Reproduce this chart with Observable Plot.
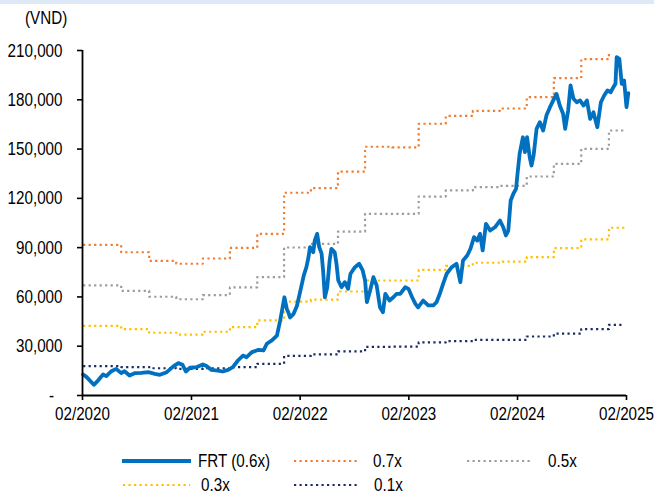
<!DOCTYPE html>
<html><head><meta charset="utf-8">
<script src="https://cdn.jsdelivr.net/npm/d3@7"></script>
<script src="https://cdn.jsdelivr.net/npm/@observablehq/plot@0.6"></script>
<style>
body{margin:0;background:#fff;}
#wrap{position:relative;width:654px;height:496px;overflow:hidden;font-family:"Liberation Sans",Arial,sans-serif;color:#000;}
#topbar{position:absolute;left:0;top:0;width:654px;height:4px;background:#dde9f6;}
#unit{position:absolute;left:25px;top:8px;font-size:19px;line-height:20px;transform:scaleX(0.8);transform-origin:0 0;}
#chart{position:absolute;left:0;top:0;}
.leg{position:absolute;font-size:19px;line-height:20px;white-space:nowrap;transform:scaleX(0.8);transform-origin:0 0;}
.sw{position:absolute;}
</style></head><body>
<div id="wrap"><div id="chart"></div><div id="topbar"></div><div id="unit"></div><div id="legend"></div></div>
<script>
// ---- data ----
const frtDates = ["2020-02-03","2020-02-15","2020-03-10","2020-03-24","2020-04-10","2020-04-21","2020-05-08","2020-05-24","2020-06-10","2020-06-21","2020-07-08","2020-07-25","2020-08-17","2020-09-09","2020-10-01","2020-10-18","2020-11-10","2020-12-02","2020-12-19","2021-01-02","2021-01-13","2021-01-27","2021-02-19","2021-03-11","2021-03-22","2021-04-09","2021-05-01","2021-05-17","2021-06-04","2021-06-20","2021-07-07","2021-07-24","2021-08-05","2021-08-23","2021-09-14","2021-10-01","2021-10-12","2021-10-29","2021-11-15","2021-11-26","2021-12-04","2021-12-10","2021-12-18","2021-12-23","2021-12-29","2022-01-10","2022-01-21","2022-02-02","2022-02-13","2022-02-22","2022-03-01","2022-03-06","2022-03-17","2022-03-22","2022-03-30","2022-04-06","2022-04-14","2022-04-19","2022-04-25","2022-05-03","2022-05-11","2022-05-17","2022-05-28","2022-06-03","2022-06-09","2022-06-20","2022-07-01","2022-07-12","2022-07-20","2022-08-04","2022-08-18","2022-08-30","2022-09-07","2022-09-13","2022-09-24","2022-10-05","2022-10-16","2022-10-27","2022-11-06","2022-11-14","2022-11-28","2022-12-11","2022-12-22","2023-01-03","2023-01-20","2023-01-31","2023-02-12","2023-02-23","2023-03-04","2023-03-21","2023-04-07","2023-04-24","2023-05-05","2023-05-16","2023-05-27","2023-06-08","2023-06-25","2023-07-11","2023-07-24","2023-08-02","2023-08-16","2023-08-27","2023-09-08","2023-09-19","2023-09-28","2023-10-07","2023-10-18","2023-11-01","2023-11-17","2023-12-04","2023-12-15","2023-12-24","2024-01-01","2024-01-09","2024-01-18","2024-01-27","2024-02-01","2024-02-08","2024-02-19","2024-02-26","2024-03-04","2024-03-13","2024-03-19","2024-03-26","2024-04-05","2024-04-16","2024-04-27","2024-05-08","2024-05-20","2024-05-31","2024-06-11","2024-06-22","2024-07-03","2024-07-10","2024-07-20","2024-07-28","2024-08-07","2024-08-18","2024-08-29","2024-09-10","2024-09-21","2024-10-02","2024-10-13","2024-10-26","2024-11-07","2024-11-18","2024-11-29","2024-12-10","2024-12-19","2024-12-26","2024-12-30","2025-01-08","2025-01-16","2025-01-24","2025-02-01","2025-02-07"];
const frtPrices = [12800,11200,6500,9100,12800,11800,14800,16200,13600,14800,12200,13600,13800,14200,13200,12600,14200,17700,19700,18700,14600,16900,17300,18900,18100,15600,15200,14600,15600,17300,21300,24300,23300,26400,27800,27400,31500,33500,36500,45700,53700,59800,52800,50700,47500,49700,54500,64000,73000,78100,84200,90300,87200,94300,98400,90300,86300,76100,59800,65900,82200,89300,87200,80200,70000,65900,69000,64900,74100,78100,80200,76100,70000,56800,63900,72000,67000,53700,50700,61900,57800,59800,61900,61900,65900,64900,59800,55800,53700,57800,54800,54800,56800,61900,68000,74100,78100,80200,69000,82200,85200,89300,96400,94300,98400,88300,104500,100400,102400,106500,102400,97400,100400,118700,122800,125800,134900,147100,157200,148100,157200,145000,140000,146100,162300,166400,161300,170400,175500,179600,183600,176500,171500,162300,173500,188700,180600,178500,179600,176500,179600,168400,172400,163300,178500,182600,185700,184600,187700,189700,205900,204900,189700,191700,175500,184000];

const bandDates = ["2020-02-03","2020-06-10","2020-09-12","2020-12-12","2021-03-11","2021-06-10","2021-09-10","2021-12-09","2022-03-09","2022-06-08","2022-09-07","2022-12-07","2023-03-06","2023-06-05","2023-09-04","2023-12-04","2024-03-03","2024-06-02","2024-09-02","2024-12-04","2025-01-25"];
const band07 = [91700,87200,82000,80200,83400,89800,98400,123400,126200,136300,151400,151000,165400,170200,173300,174700,181600,193200,204700,208400,null];
const band05 = [67000,63700,60100,58600,61100,65800,72000,90100,92300,99800,110600,110600,121100,124800,126800,127600,133300,141000,150100,161300,161300];
const band03 = [42400,40400,38200,37100,38800,41600,45700,57200,58400,63300,70000,70000,76500,78900,80800,81500,84200,89700,95000,102100,102100];
const band01 = [17900,17300,16600,16200,16600,17300,19300,24100,25000,26800,29600,29700,32300,33100,33900,33900,35900,37700,40400,43000,43000];

const seriesNames = ["FRT (0.6x)","0.7x","0.5x","0.3x","0.1x"];
const seriesColors = ["#0070C0","#ED7D31","#9C9C9C","#FFC000","#1C2B60"];
const yTicks = [0,30000,60000,90000,120000,150000,180000,210000];
const xTickLabels = ["02/2020","02/2021","02/2022","02/2023","02/2024","02/2025"];
const unitLabel = "(VND)";

// ---- build ----
const parseDay = d3.utcParse("%Y-%m-%d");
const parseTick = d3.utcParse("%m/%Y");
const xTicks = xTickLabels.map(parseTick);
const frt = frtDates.map((d,i)=>({date:parseDay(d), value:frtPrices[i]}));
const bandSeries = [band07, band05, band03, band01].map((vals, k) => ({
  name: seriesNames[k+1], color: seriesColors[k+1],
  data: bandDates.map((d,i)=>({date:parseDay(d), value:vals[i]})).filter(p => p.value != null)
}));
const DASH = "2.2 3.3";
const fmt = d3.format(",");

const chart = Plot.plot({
  width: 654, height: 440,
  marginLeft: 82, marginRight: 28, marginTop: 50, marginBottom: 45,
  style: {fontFamily: '"Liberation Sans",Arial,sans-serif', fontSize: "19px", color: "#000", background: "transparent", overflow: "visible"},
  x: {type: "utc", domain: [xTicks[0], xTicks[xTicks.length-1]], label: null},
  y: {domain: [0, 210000], label: null},
  marks: [
    ...bandSeries.map(s => Plot.line(s.data, {x: "date", y: "value", curve: "step-after", stroke: s.color, strokeWidth: 2.2, strokeDasharray: DASH, strokeLinecap: "butt"})),
    Plot.line(frt, {x: "date", y: "value", stroke: seriesColors[0], strokeWidth: 3.8, strokeLinejoin: "round"}),
    Plot.ruleX([xTicks[0]], {stroke: "#000", strokeWidth: 1.8}),
    Plot.ruleY([0], {stroke: "#000", strokeWidth: 1.8}),
    Plot.axisY({ticks: yTicks, tickFormat: d => d === 0 ? "-\u00a0\u00a0" : fmt(d), tickSize: 5, tickPadding: 15, strokeWidth: 1.6, label: null}),
    Plot.axisX({ticks: xTicks, tickFormat: d3.utcFormat("%m/%Y"), tickSize: 5, tickPadding: 6, strokeWidth: 1.6, label: null})
  ]
});
// condense the tick labels horizontally, keeping each anchor point fixed
chart.querySelectorAll("text").forEach(t => {
  const tr = t.getAttribute("transform");
  if (tr) t.setAttribute("transform", tr + " scale(0.8,1)");
  else {
    const x = +(t.getAttribute("x") || 0);
    t.setAttribute("transform", `translate(${x},0) scale(0.8,1) translate(${-x},0)`);
  }
});
document.getElementById("chart").appendChild(chart);
document.getElementById("unit").textContent = unitLabel;

// legend (layout positions)
const legendLayout = [
  {sx:122, sw:69, tx:198, y:461},
  {sx:294, sw:65, tx:373, y:461},
  {sx:467, sw:65, tx:548, y:461},
  {sx:123, sw:67, tx:201, y:485},
  {sx:294, sw:65, tx:374, y:485}
];
const leg = document.getElementById("legend");
seriesNames.forEach((name, i) => {
  const L = legendLayout[i];
  const ns = "http://www.w3.org/2000/svg";
  const svg = document.createElementNS(ns, "svg");
  svg.setAttribute("class","sw");
  svg.setAttribute("width", L.sw); svg.setAttribute("height", 8);
  svg.style.left = L.sx + "px"; svg.style.top = (L.y - 4) + "px";
  const ln = document.createElementNS(ns, "line");
  ln.setAttribute("x1", 0); ln.setAttribute("x2", L.sw); ln.setAttribute("y1", 4); ln.setAttribute("y2", 4);
  ln.setAttribute("stroke", seriesColors[i]);
  ln.setAttribute("stroke-width", i === 0 ? 3.8 : 2.2);
  if (i > 0) ln.setAttribute("stroke-dasharray", DASH);
  svg.appendChild(ln);
  leg.appendChild(svg);
  const t = document.createElement("div");
  t.className = "leg"; t.textContent = name;
  t.style.left = L.tx + "px"; t.style.top = (L.y - 10) + "px";
  leg.appendChild(t);
});
</script>
</body></html>
